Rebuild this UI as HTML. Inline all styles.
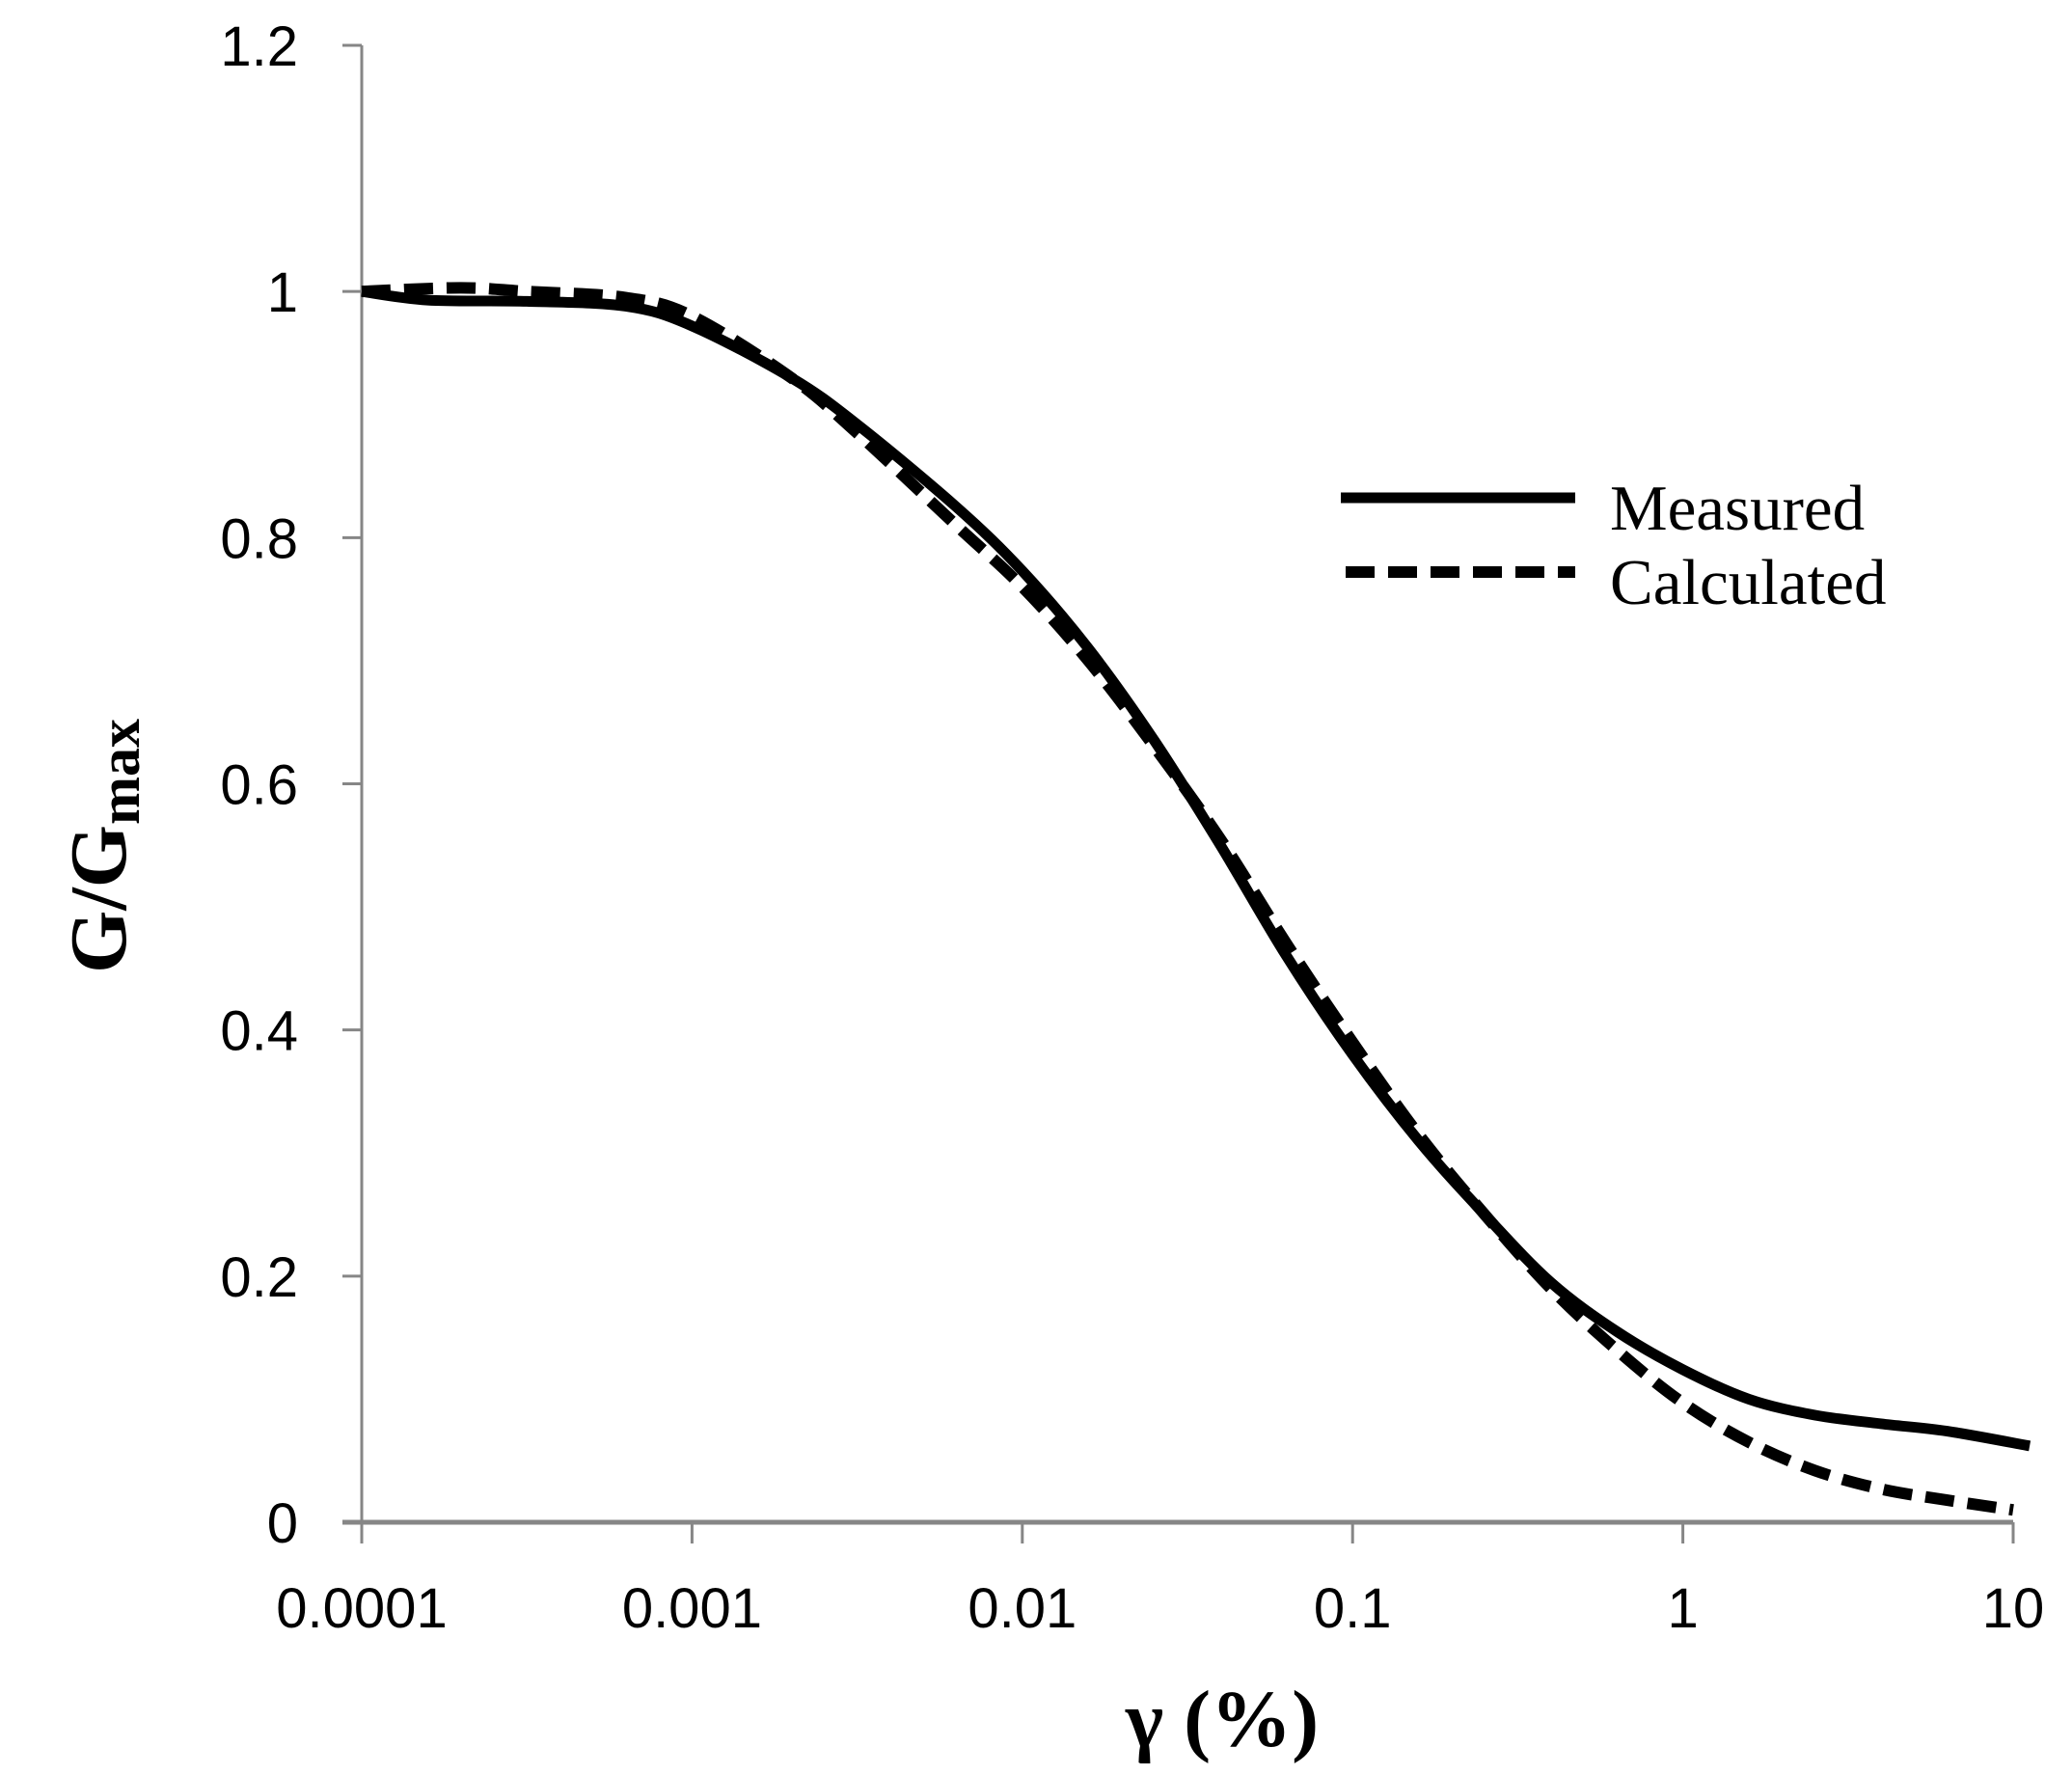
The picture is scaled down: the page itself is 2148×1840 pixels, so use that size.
<!DOCTYPE html>
<html><head><meta charset="utf-8"><style>
html,body{margin:0;padding:0;background:#fff;}
svg{display:block;}
</style></head><body>
<svg id="chart" width="2148" height="1840" viewBox="0 0 2148 1840" xmlns="http://www.w3.org/2000/svg">
<rect width="2148" height="1840" fill="#fff"/>
<g id="axes"></g>
<g id="series"></g>
<text x="1267" y="1810" text-anchor="middle" font-family="Liberation Serif, serif" font-weight="bold" font-size="84">γ (%)</text>
<text transform="translate(130,877) rotate(-90)" text-anchor="middle" font-family="Liberation Serif, serif" font-weight="bold" font-size="84">G/G<tspan font-size="60" dy="14">max</tspan></text>
<g>
<line x1="1390" y1="516" x2="1633" y2="516" stroke="#000" stroke-width="11"/>
<text x="1669" y="549" font-family="Liberation Serif, serif" font-size="67">Measured</text>
<line x1="1395" y1="593" x2="1633" y2="593" stroke="#000" stroke-width="12" stroke-dasharray="30,14"/>
<text x="1669" y="626" font-family="Liberation Serif, serif" font-size="67">Calculated</text>
</g>
</svg>
<script>
const xTickLabels = ["0.0001","0.001","0.01","0.1","1","10"];
const yTickLabels = ["0","0.2","0.4","0.6","0.8","1","1.2"];
const logStrain = [-4,-3.8,-3.5,-3.2,-3,-2.7,-2.5,-2.2,-2,-1.8,-1.6,-1.4,-1.2,-1,-0.8,-0.6,-0.4,-0.2,0,0.2,0.4,0.6,0.8,1.05];
const measured = [1.0,0.993,0.992,0.988,0.972,0.93,0.892,0.825,0.773,0.71,0.635,0.55,0.46,0.38,0.31,0.25,0.195,0.155,0.124,0.1,0.087,0.08,0.074,0.062];
const logStrainCalc = [-4,-3.7,-3.5,-3.2,-3,-2.7,-2.5,-2.2,-2,-1.8,-1.6,-1.4,-1.2,-1,-0.8,-0.6,-0.4,-0.2,0,0.2,0.4,0.6,0.8,1.0];
const calculated = [1.0,1.003,1.0,0.995,0.98,0.93,0.885,0.81,0.76,0.70,0.63,0.555,0.47,0.39,0.315,0.25,0.19,0.14,0.097,0.065,0.042,0.027,0.018,0.01];

const NS="http://www.w3.org/2000/svg";
const X0=375, X1=2087, Y0=1578, Y1=47;
function xs(lg){return X0+(lg+4)/5*(X1-X0);}
function ys(v){return Y0-v/1.2*(Y0-Y1);}
function mk(tag,attrs,parent){const e=document.createElementNS(NS,tag);for(const k in attrs)e.setAttribute(k,attrs[k]);parent.appendChild(e);return e;}
const axes=document.getElementById('axes');
let yl=mk('line',{x1:X0,y1:Y1,x2:X0,y2:Y0,stroke:'#868686','stroke-width':3},axes);


let xl=mk('line',{x1:355,y1:Y0,x2:X1,y2:Y0,stroke:'#868686','stroke-width':5},axes);


yTickLabels.forEach((t,i)=>{
  const v=parseFloat(t);const y=ys(v);
  const tk=mk('line',{x1:355,y1:y,x2:X0,y2:y,stroke:'#868686','stroke-width':3},axes);
  
  
  const tx=mk('text',{x:309,y:y+21,'text-anchor':'end','font-family':'Liberation Sans, sans-serif','font-size':58},axes);
  tx.textContent=t;
  
  
});
xTickLabels.forEach((t,i)=>{
  const x=xs(Math.log10(parseFloat(t)));
  const tk=mk('line',{x1:x,y1:Y0,x2:x,y2:1600,stroke:'#868686','stroke-width':3},axes);
  
  
  const tx=mk('text',{x:x,y:1687,'text-anchor':'middle','font-family':'Liberation Sans, sans-serif','font-size':58},axes);
  tx.textContent=t;
  
  
});
function path(xv,yv){
  const p=xv.map((l,i)=>[xs(l),ys(yv[i])]);
  let d='M'+p[0][0]+','+p[0][1];
  for(let i=0;i<p.length-1;i++){
    const p0=p[i-1]||p[i],p1=p[i],p2=p[i+1],p3=p[i+2]||p2;
    const c1x=p1[0]+(p2[0]-p0[0])/6,c1y=p1[1]+(p2[1]-p0[1])/6;
    const c2x=p2[0]-(p3[0]-p1[0])/6,c2y=p2[1]-(p3[1]-p1[1])/6;
    d+=` C${c1x},${c1y} ${c2x},${c2y} ${p2[0]},${p2[1]}`;
  }
  return d;
}
const series=document.getElementById('series');
const m=mk('path',{d:path(logStrain,measured),fill:'none',stroke:'#000','stroke-width':11},series);


const c=mk('path',{d:path(logStrainCalc,calculated),fill:'none',stroke:'#000','stroke-width':12,'stroke-dasharray':'30,14'},series);


</script>
</body></html>
